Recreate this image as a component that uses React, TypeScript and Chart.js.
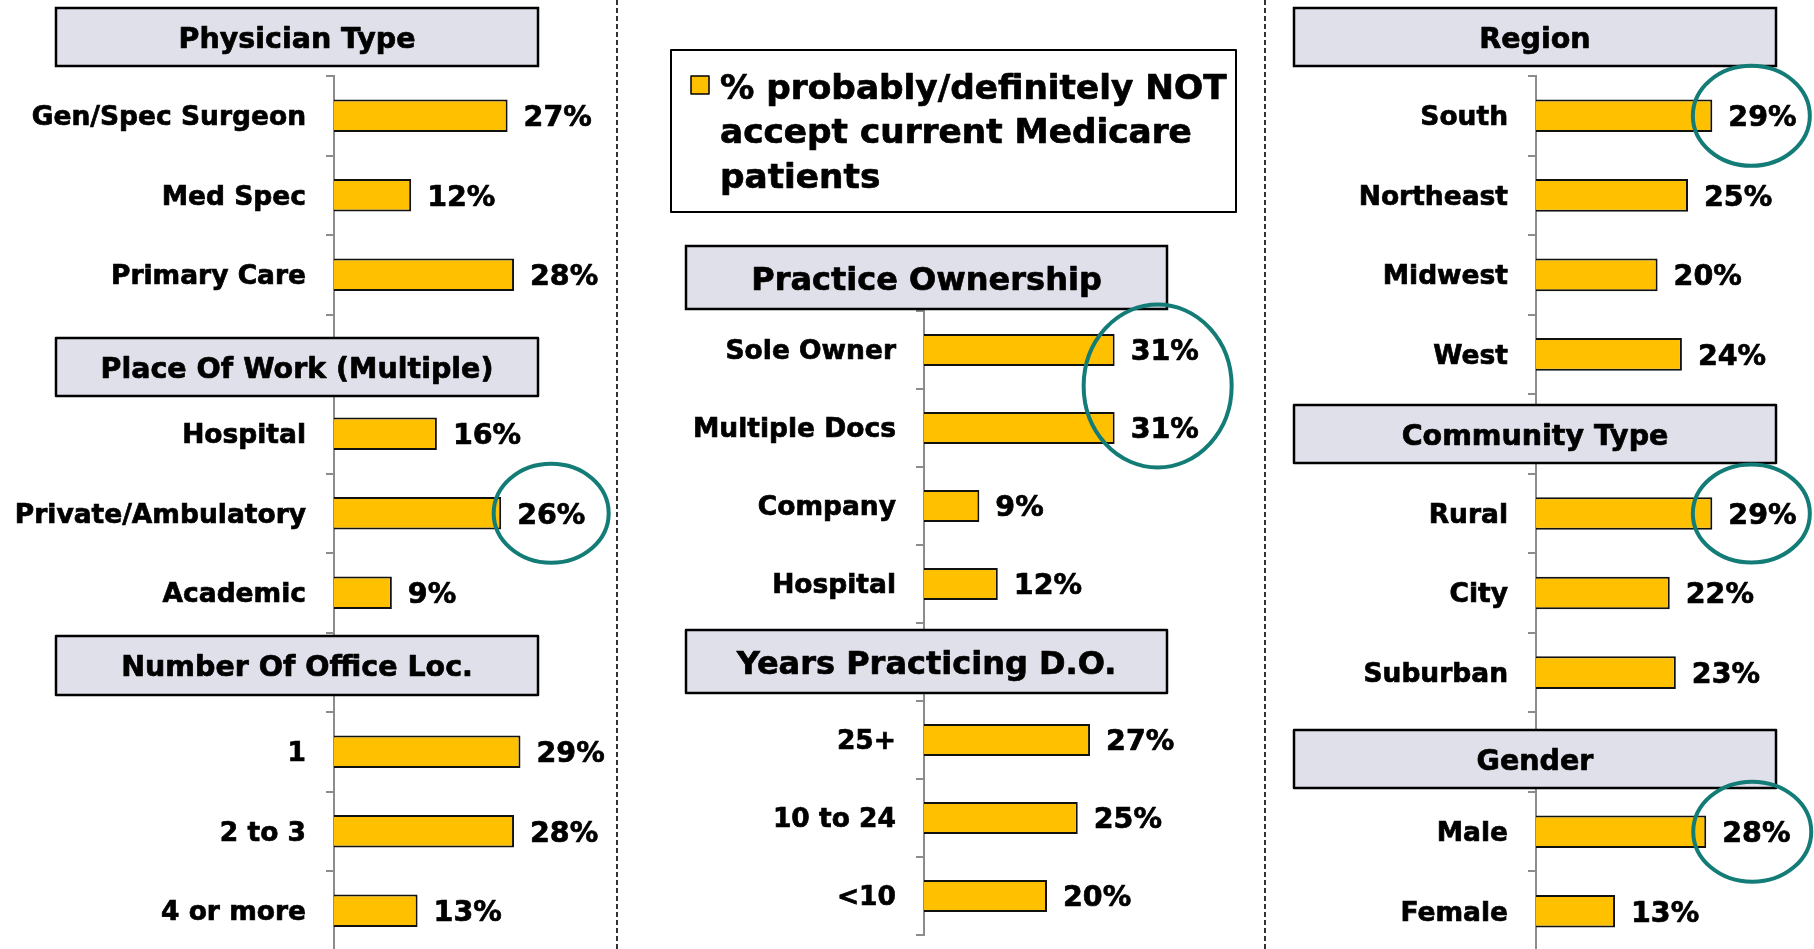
import React, { useEffect, useRef } from "react";
import { Chart, registerables } from "chart.js";

Chart.register(...registerables);

// ---------------- DATA ----------------
const physicianTitle = "Physician Type";
const physicianLabels = ["Gen/Spec Surgeon", "Med Spec", "Primary Care"];
const physicianValues = [27, 12, 28];

const placeTitle = "Place Of Work (Multiple)";
const placeLabels = ["Hospital", "Private/Ambulatory", "Academic"];
const placeValues = [16, 26, 9];

const officeTitle = "Number Of Office Loc.";
const officeLabels = ["1", "2 to 3", "4 or more"];
const officeValues = [29, 28, 13];

const ownershipTitle = "Practice Ownership";
const ownershipLabels = ["Sole Owner", "Multiple Docs", "Company", "Hospital"];
const ownershipValues = [31, 31, 9, 12];

const yearsTitle = "Years Practicing D.O.";
const yearsLabels = ["25+", "10 to 24", "<10"];
const yearsValues = [27, 25, 20];

const regionTitle = "Region";
const regionLabels = ["South", "Northeast", "Midwest", "West"];
const regionValues = [29, 25, 20, 24];

const communityTitle = "Community Type";
const communityLabels = ["Rural", "City", "Suburban"];
const communityValues = [29, 22, 23];

const genderTitle = "Gender";
const genderLabels = ["Male", "Female"];
const genderValues = [28, 13];

const legendLines = ["% probably/definitely NOT", "accept current Medicare", "patients"];

// ---------------- STYLE / LAYOUT ----------------
const FONT = "'DejaVu Sans', Verdana, sans-serif";
const BAR_FILL = "#FFC000";
const HEADER_FILL = "#E0E0EB";
const TEAL = "#137C77";
const AXIS_GRAY = "#8c8c8c";
const LABEL_SIZE = 26.5;
const VALUE_SIZE = 28.5;
const TEXT_STROKE = 0.7;
const CANVAS_H = 1000;

type Group = { title: string; labels: string[]; values: number[] };
type Panel = {
  key: string;
  left: number;
  width: number;
  axis: number;
  top: number;
  bottom: number;
  pxPct: number;
  xMax: number;
  groups: Group[];
  boxes: [number, number, number, number][];
  headerSize: number;
  headerDy: number;
  circles: { group: number; rows: number[]; dx: number; dy: number; rx: number; ry: number }[];
  legend?: { box: [number, number, number, number]; marker: [number, number, number]; textX: number; lineY: number[]; size: number };
};

const PANELS: Panel[] = [
  {
    key: "left",
    left: 0,
    width: 617,
    axis: 334,
    top: 76,
    bottom: 950.5,
    pxPct: 6.43,
    xMax: 40,
    groups: [
      { title: physicianTitle, labels: physicianLabels, values: physicianValues },
      { title: placeTitle, labels: placeLabels, values: placeValues },
      { title: officeTitle, labels: officeLabels, values: officeValues },
    ],
    boxes: [
      [56, 8, 538, 66],
      [56, 338, 538, 396],
      [56, 636, 538, 695],
    ],
    headerSize: 28.5,
    headerDy: 3.5,
    circles: [{ group: 1, rows: [1], dx: 50, dy: 0, rx: 57.5, ry: 49.5 }],
  },
  {
    key: "middle",
    left: 617,
    width: 648,
    axis: 924,
    top: 311,
    bottom: 935,
    pxPct: 6.15,
    xMax: 40,
    groups: [
      { title: ownershipTitle, labels: ownershipLabels, values: ownershipValues },
      { title: yearsTitle, labels: yearsLabels, values: yearsValues },
    ],
    boxes: [
      [686, 246, 1167, 309],
      [686, 630, 1167, 693],
    ],
    headerSize: 32,
    headerDy: 4,
    circles: [{ group: 0, rows: [0, 1], dx: 43, dy: -3, rx: 74, ry: 81.5 }],
    legend: { box: [671, 50, 1236, 212], marker: [691, 76, 18], textX: 720, lineY: [90, 134, 179], size: 34.3 },
  },
  {
    key: "right",
    left: 1265,
    width: 549,
    axis: 1536,
    top: 76,
    bottom: 951,
    pxPct: 6.08,
    xMax: 40,
    groups: [
      { title: regionTitle, labels: regionLabels, values: regionValues },
      { title: communityTitle, labels: communityLabels, values: communityValues },
      { title: genderTitle, labels: genderLabels, values: genderValues },
    ],
    boxes: [
      [1294, 8, 1776, 66],
      [1294, 405, 1776, 463],
      [1294, 730, 1776, 788],
    ],
    headerSize: 28.5,
    headerDy: 3.5,
    circles: [
      { group: 0, rows: [0], dx: 39, dy: 0, rx: 58.5, ry: 50 },
      { group: 1, rows: [0], dx: 39, dy: 0, rx: 58.5, ry: 49 },
      { group: 2, rows: [0], dx: 46, dy: 0, rx: 59, ry: 50 },
    ],
  },
];

const DIVIDERS = [617, 1265];

function buildRows(groups: Group[]) {
  const labels: string[] = [];
  const values: (number | null)[] = [];
  const starts: number[] = [];
  groups.forEach((g, i) => {
    if (i > 0) {
      labels.push("");
      values.push(null);
    }
    starts.push(labels.length);
    g.labels.forEach((l, j) => {
      labels.push(l);
      values.push(g.values[j]);
    });
  });
  return { labels, values, starts };
}

function boldText(ctx: CanvasRenderingContext2D, text: string, x: number, y: number) {
  ctx.lineWidth = TEXT_STROKE;
  ctx.strokeStyle = "#000";
  ctx.lineJoin = "round";
  ctx.strokeText(text, x, y);
  ctx.fillText(text, x, y);
}

function makeOverlay(p: Panel, starts: number[]) {
  return {
    id: "overlay_" + p.key,
    afterDraw(chart: any) {
      const ctx: CanvasRenderingContext2D = chart.ctx;
      const meta = chart.getDatasetMeta(0);
      const data = chart.data.datasets[0].data;
      ctx.save();

      // section headers
      p.groups.forEach((g, i) => {
        const [x0, y0, x1, y1] = p.boxes[i];
        const X0 = x0 - p.left;
        ctx.fillStyle = HEADER_FILL;
        ctx.fillRect(X0, y0, x1 - x0, y1 - y0);
        ctx.lineWidth = 2.5;
        ctx.strokeStyle = "#000";
        ctx.strokeRect(X0, y0, x1 - x0, y1 - y0);
        ctx.fillStyle = "#000";
        ctx.font = `bold ${p.headerSize}px ${FONT}`;
        ctx.textAlign = "center";
        ctx.textBaseline = "middle";
        boldText(ctx, g.title, X0 + (x1 - x0) / 2, (y0 + y1) / 2 + p.headerDy);
      });

      // value labels
      ctx.font = `bold ${VALUE_SIZE}px ${FONT}`;
      ctx.textAlign = "left";
      ctx.textBaseline = "middle";
      ctx.fillStyle = "#000";
      meta.data.forEach((el: any, i: number) => {
        const v = data[i];
        if (v == null) return;
        const { x, y } = el.getProps(["x", "y"], true);
        boldText(ctx, v + "%", x + 16, y + 3);
      });

      // highlight circles
      p.circles.forEach((c) => {
        const pts = c.rows.map((r) => meta.data[starts[c.group] + r].getProps(["x", "y"], true));
        const cx = Math.max(...pts.map((e: any) => e.x)) + c.dx;
        const cy = pts.reduce((s: number, e: any) => s + e.y, 0) / pts.length + c.dy;
        ctx.beginPath();
        ctx.ellipse(cx, cy, c.rx, c.ry, 0, 0, Math.PI * 2);
        ctx.lineWidth = 4;
        ctx.strokeStyle = TEAL;
        ctx.stroke();
      });

      // legend
      if (p.legend) {
        const L = p.legend;
        const [x0, y0, x1, y1] = L.box;
        ctx.fillStyle = "#fff";
        ctx.fillRect(x0 - p.left, y0, x1 - x0, y1 - y0);
        ctx.lineWidth = 2;
        ctx.strokeStyle = "#000";
        ctx.strokeRect(x0 - p.left, y0, x1 - x0, y1 - y0);
        const [mx, my, ms] = L.marker;
        ctx.fillStyle = BAR_FILL;
        ctx.fillRect(mx - p.left, my, ms, ms);
        ctx.lineWidth = 1.5;
        ctx.strokeRect(mx - p.left, my, ms, ms);
        ctx.fillStyle = "#000";
        ctx.font = `bold ${L.size}px ${FONT}`;
        ctx.textAlign = "left";
        ctx.textBaseline = "middle";
        legendLines.forEach((t, i) => boldText(ctx, t, L.textX - p.left, L.lineY[i]));
      }
      ctx.restore();
    },
  };
}

function PanelChart({ panel }: { panel: Panel }) {
  const ref = useRef<HTMLCanvasElement | null>(null);
  useEffect(() => {
    if (!ref.current) return;
    const p = panel;
    const rows = buildRows(p.groups);
    const yWidth = p.axis - p.left;
    const chart = new Chart(ref.current, {
      type: "bar",
      data: {
        labels: rows.labels,
        datasets: [
          {
            data: rows.values as any,
            backgroundColor: BAR_FILL,
            borderColor: "#111",
            borderWidth: 2,
            barPercentage: 0.41,
            categoryPercentage: 1,
          },
        ],
      },
      options: {
        indexAxis: "y",
        responsive: false,
        animation: false,
        events: [],
        layout: {
          padding: {
            top: p.top,
            bottom: CANVAS_H - p.bottom,
            left: 0,
            right: p.width - yWidth - p.xMax * p.pxPct,
          },
        },
        plugins: { legend: { display: false }, tooltip: { enabled: false } },
        scales: {
          x: { display: false, min: 0, max: p.xMax },
          y: {
            offset: true,
            afterFit: (s: any) => {
              s.width = yWidth;
            },
            grid: {
              display: true,
              offset: true,
              drawOnChartArea: false,
              drawTicks: true,
              tickLength: 8,
              color: AXIS_GRAY,
              lineWidth: 2,
            },
            border: { display: true, color: AXIS_GRAY, width: 2 },
            ticks: {
              autoSkip: false,
              color: "#000",
              padding: 20,
              labelOffset: 2.5,
              textStrokeColor: "#000",
              textStrokeWidth: TEXT_STROKE,
              font: { family: FONT, size: LABEL_SIZE, weight: "bold" },
            },
          },
        },
      } as any,
      plugins: [makeOverlay(p, rows.starts)],
    });
    return () => chart.destroy();
  }, [panel]);
  return (
    <canvas
      ref={ref}
      width={panel.width}
      height={CANVAS_H}
      style={{ position: "absolute", left: panel.left, top: 0, width: panel.width, height: CANVAS_H }}
    />
  );
}

export default function App() {
  return (
    <div
      style={{
        position: "absolute",
        left: 0,
        top: 0,
        width: 1814,
        height: 949,
        overflow: "hidden",
        background: "#fff",
      }}
    >
      {PANELS.map((p) => (
        <PanelChart key={p.key} panel={p} />
      ))}
      <svg width={1814} height={949} style={{ position: "absolute", left: 0, top: 0, pointerEvents: "none" }}>
        {DIVIDERS.map((x) => (
          <line key={x} x1={x} y1={0} x2={x} y2={949} stroke="#000" strokeWidth={1.6} strokeDasharray="5 3" />
        ))}
      </svg>
    </div>
  );
}
